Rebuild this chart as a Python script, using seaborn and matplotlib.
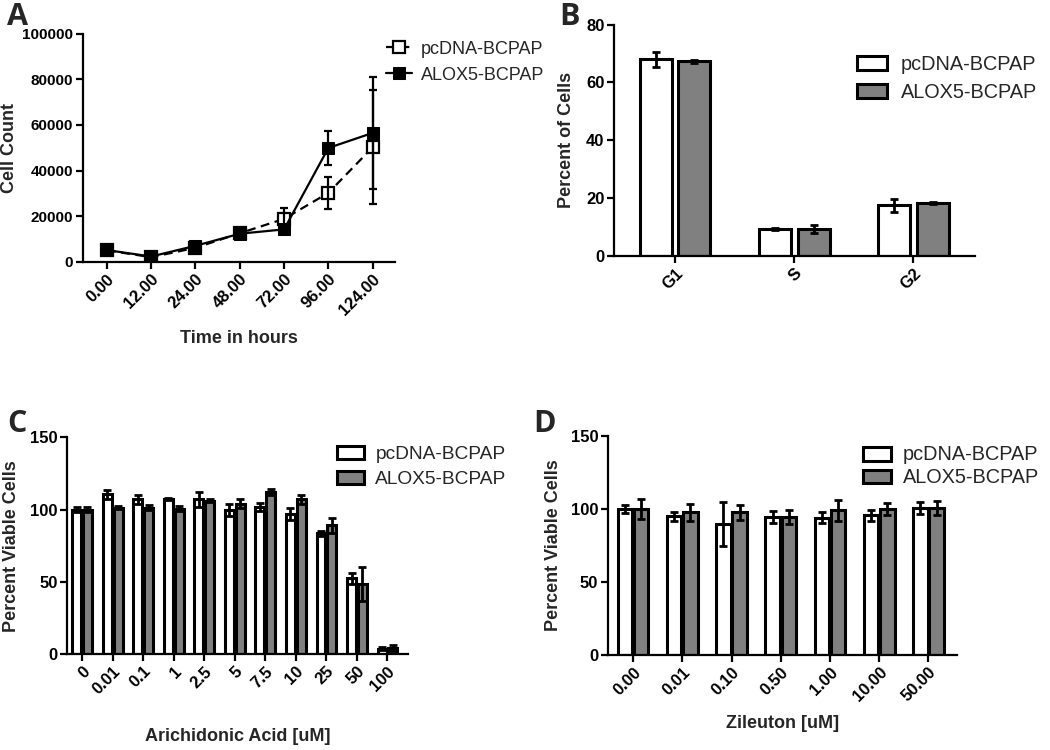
"""
ALOX5 vs pcDNA BCPAP cells: growth, cell cycle and viability panels.
"""

import numpy as np
import pandas as pd
import matplotlib
matplotlib.use("Agg")
import matplotlib.pyplot as plt
import seaborn as sns

sns.set_theme(style="ticks")
plt.rcParams["font.family"] = ["Liberation Sans", "DejaVu Sans"]

# ── Data ────────────────────────────────────────────────────────────────────
GROUPS = ["pcDNA-BCPAP", "ALOX5-BCPAP"]
PALETTE = {"pcDNA-BCPAP": "white", "ALOX5-BCPAP": "#808080"}

# A: growth curve
hours = ["0.00", "12.00", "24.00", "48.00", "72.00", "96.00", "124.00"]
count_pc = [5000, 2000, 6100, 12500, 18800, 30200, 50200]
count_pc_err = [600, 400, 800, 600, 4800, 7000, 25000]
count_alox = [5100, 2300, 7000, 12300, 14200, 49900, 56500]
count_alox_err = [500, 400, 700, 500, 700, 7500, 24500]

# B: cell cycle
phases = ["G1", "S", "G2"]
cycle_pc = [68.0, 9.3, 17.5]
cycle_pc_err = [2.5, 0.4, 2.2]
cycle_alox = [67.3, 9.3, 18.3]
cycle_alox_err = [0.6, 1.5, 0.3]

# C: arachidonic acid
aa_dose = ["0", "0.01", "0.1", "1", "2.5", "5", "7.5", "10", "25", "50", "100"]
aa_pc = [100, 110.5, 107, 107.3, 107, 99.5, 101.8, 97, 83.4, 52.4, 3.5]
aa_pc_err = [2, 3, 3, 1, 5, 4, 3, 4, 1.5, 4, 1]
aa_alox = [100, 101.3, 101.3, 100.6, 106, 104, 112, 107, 89, 48.5, 4]
aa_alox_err = [2, 1, 1.5, 1.5, 1, 3, 2, 3, 5, 12, 2]

# D: zileuton
zil_dose = ["0.00", "0.01", "0.10", "0.50", "1.00", "10.00", "50.00"]
zil_pc = [99.8, 94.7, 89.5, 94.3, 94, 95.4, 100.5]
zil_pc_err = [3, 3, 15, 4, 4, 4, 4]
zil_alox = [99.8, 97.5, 97.5, 94.3, 98.9, 99.8, 100.5]
zil_alox_err = [7, 6, 5, 5, 7, 4, 5]

# ── Helpers ─────────────────────────────────────────────────────────────────
TICK_FS = 12
LABEL_FS = 13


def style_axis(ax, ytick_fs=TICK_FS):
    sns.despine(ax=ax)
    for s in ("left", "bottom"):
        ax.spines[s].set_linewidth(1.6)
        ax.spines[s].set_color("black")
    ax.tick_params(width=1.6, length=5, pad=2, colors="black", labelsize=TICK_FS, direction="out")
    ax.tick_params(axis="y", labelsize=ytick_fs)
    for lab in ax.get_xticklabels() + ax.get_yticklabels():
        lab.set_fontweight("bold")


def bar_panel(ax, cats, pc, pc_err, alox, alox_err, width, gap):
    df = pd.DataFrame({
        "cat": cats * 2,
        "val": pc + alox,
        "group": [GROUPS[0]] * len(cats) + [GROUPS[1]] * len(cats),
    })
    sns.barplot(data=df, x="cat", y="val", hue="group", order=cats, hue_order=GROUPS,
                palette=PALETTE, saturation=1, width=width, gap=gap, errorbar=None,
                edgecolor="black", linewidth=2.2, legend=False, ax=ax)
    for cont, errs in zip(ax.containers, [pc_err, alox_err]):
        xs = [p.get_x() + p.get_width() / 2 for p in cont.patches]
        hs = [p.get_height() for p in cont.patches]
        ax.errorbar(xs, hs, yerr=errs, fmt="none", ecolor="black",
                    elinewidth=2, capsize=3, capthick=2, zorder=5)
    return ax.containers


fig = plt.figure(figsize=(10.5, 7.5), dpi=100)

# ── A: growth curve ─────────────────────────────────────────────────────────
axA = fig.add_axes([0.079, 0.651, 0.297, 0.304])
pos = np.arange(len(hours))
sns.lineplot(x=pos, y=count_pc, ax=axA, color="black", linewidth=1.6,
             linestyle=(0, (4, 2.5)), marker="s", markersize=8, markerfacecolor="white",
             markeredgecolor="black", markeredgewidth=1.6, label=GROUPS[0])
axA.errorbar(pos, count_pc, yerr=count_pc_err, fmt="none", ecolor="black",
             elinewidth=1.6, capsize=3, capthick=1.6)
sns.lineplot(x=pos, y=count_alox, ax=axA, color="black", linewidth=1.6,
             marker="s", markersize=8, markerfacecolor="black",
             markeredgecolor="black", label=GROUPS[1])
axA.errorbar(pos, count_alox, yerr=count_alox_err, fmt="none", ecolor="black",
             elinewidth=1.6, capsize=3, capthick=1.6)
axA.set_xticks(pos)
axA.set_xticklabels(hours, rotation=45, ha="right", rotation_mode="anchor")
axA.set_xlim(-0.54, 6.5)
axA.set_ylim(0, 100000)
axA.set_yticks([0, 20000, 40000, 60000, 80000, 100000])
axA.set_xlabel("Time in hours", fontsize=LABEL_FS, fontweight="bold")
axA.set_ylabel("Cell Count", fontsize=LABEL_FS, fontweight="bold")
axA.xaxis.set_label_coords(0.5, -0.298)
axA.yaxis.set_label_coords(-0.208, 0.5)
style_axis(axA, ytick_fs=11)
axA.legend(loc="upper left", bbox_to_anchor=(0.368, 0.946), bbox_transform=fig.transFigure,
           frameon=False, fontsize=13, handlelength=1.4, handletextpad=0.5,
           labelspacing=0.5, borderpad=0, borderaxespad=0)

# ── B: cell cycle ───────────────────────────────────────────────────────────
axB = fig.add_axes([0.585, 0.659, 0.344, 0.308])
conts = bar_panel(axB, phases, cycle_pc, cycle_pc_err, cycle_alox, cycle_alox_err, 0.65, 0.17)
axB.set_xlim(-0.51, 2.52)
axB.set_ylim(0, 80)
axB.set_yticks([0, 20, 40, 60, 80])
axB.set_xticks(range(len(phases)))
axB.set_xticklabels(phases, rotation=45, ha="right", rotation_mode="anchor")
axB.set_xlabel("")
axB.set_ylabel("Percent of Cells", fontsize=LABEL_FS, fontweight="bold")
axB.yaxis.set_label_coords(-0.108, 0.5)
style_axis(axB)
axB.legend(conts, GROUPS, loc="upper left", bbox_to_anchor=(0.816, 0.927),
           bbox_transform=fig.transFigure, frameon=False, fontsize=14.3,
           handlelength=1.5, handletextpad=0.7, labelspacing=0.45, borderpad=0, borderaxespad=0)

# ── C: arachidonic acid ─────────────────────────────────────────────────────
axC = fig.add_axes([0.064, 0.128, 0.325, 0.289])
conts = bar_panel(axC, aa_dose, aa_pc, aa_pc_err, aa_alox, aa_alox_err, 0.70, 0.16)
axC.set_xlim(-0.49, 10.69)
axC.set_ylim(0, 150)
axC.set_yticks([0, 50, 100, 150])
axC.set_xticks(range(len(aa_dose)))
axC.set_xticklabels(aa_dose, rotation=45, ha="right", rotation_mode="anchor")
axC.set_xlabel("Arichidonic Acid [uM]", fontsize=LABEL_FS, fontweight="bold")
axC.set_ylabel("Percent Viable Cells", fontsize=LABEL_FS, fontweight="bold")
axC.xaxis.set_label_coords(0.5, -0.341)
axC.yaxis.set_label_coords(-0.138, 0.5)
style_axis(axC)
axC.legend(conts, GROUPS, loc="upper left", bbox_to_anchor=(0.321, 0.406),
           bbox_transform=fig.transFigure, frameon=False, fontsize=13.8,
           handlelength=1.4, handletextpad=0.6, labelspacing=0.4, borderpad=0, borderaxespad=0)

# ── D: zileuton ─────────────────────────────────────────────────────────────
axD = fig.add_axes([0.579, 0.127, 0.332, 0.292])
conts = bar_panel(axD, zil_dose, zil_pc, zil_pc_err, zil_alox, zil_alox_err, 0.66, 0.11)
axD.set_xlim(-0.51, 6.57)
axD.set_ylim(0, 150)
axD.set_yticks([0, 50, 100, 150])
axD.set_xticks(range(len(zil_dose)))
axD.set_xticklabels(zil_dose, rotation=45, ha="right", rotation_mode="anchor")
axD.set_xlabel("Zileuton [uM]", fontsize=LABEL_FS, fontweight="bold")
axD.set_ylabel("Percent Viable Cells", fontsize=LABEL_FS, fontweight="bold")
axD.xaxis.set_label_coords(0.5, -0.274)
axD.yaxis.set_label_coords(-0.132, 0.5)
style_axis(axD)
axD.legend(conts, GROUPS, loc="upper left", bbox_to_anchor=(0.822, 0.406),
           bbox_transform=fig.transFigure, frameon=False, fontsize=14.3,
           handlelength=1.4, handletextpad=0.6, labelspacing=0.2, borderpad=0, borderaxespad=0)

# ── Panel letters ───────────────────────────────────────────────────────────
for letter, x, y in [("A", 0.007, 0.997), ("B", 0.533, 0.997),
                     ("C", 0.007, 0.455), ("D", 0.508, 0.455)]:
    fig.text(x, y, letter, fontsize=22, fontweight="bold", family=["Open Sans", "DejaVu Sans"],
             va="top", ha="left")

plt.savefig("out.png", dpi=100)
